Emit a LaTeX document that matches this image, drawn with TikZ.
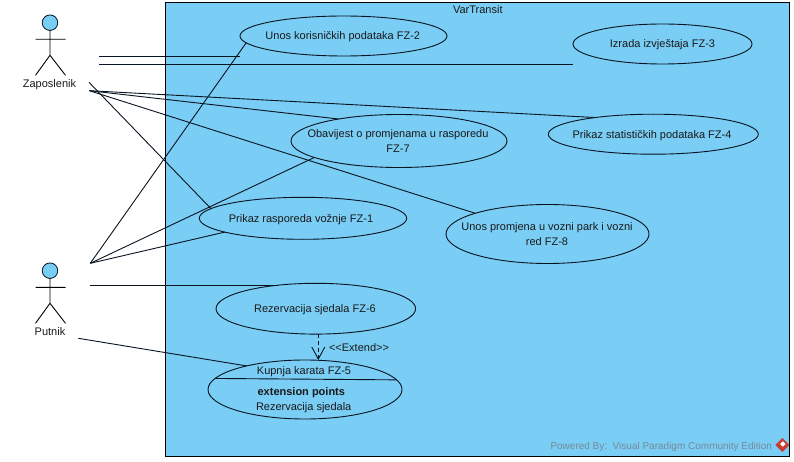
\documentclass[tikz,border=0pt]{standalone}
\usepackage{fontspec}
\setmainfont{Liberation Sans}
\usetikzlibrary{arrows.meta,shapes.geometric}
\definecolor{vpblue}{RGB}{122,205,245}
\definecolor{vpline}{RGB}{8,20,32}
\definecolor{vpgray}{RGB}{118,138,150}
\definecolor{vpred}{RGB}{200,60,50}
\tikzset{
  every node/.style={font=\fontsize{11}{15}\selectfont,text=black!90,inner sep=0pt,outer sep=0pt},
  usecase/.style={draw=vpline,line width=0.9pt,ellipse,fill=vpblue,inner sep=0pt},
  uctext/.style={anchor=base,align=center},
  assoc/.style={draw=vpline,line width=0.9pt},
  limb/.style={draw=black,line width=0.9pt},
  head/.style={circle,draw=vpline,line width=0.8pt,fill=vpblue,minimum size=15.5pt},
  extendline/.style={draw=vpline,line width=0.9pt,dash pattern=on 4pt off 3pt,-{Straight Barb[length=12pt,width=13pt,line width=0.9pt]}},
  sysbox/.style={draw=black,line width=1pt,fill=vpblue},
}
\begin{document}
\begin{tikzpicture}[x=1pt,y=-1pt]
\useasboundingbox (0,0) rectangle (794,462);
% system boundary
\node[sysbox,minimum width=623.8pt,minimum height=454.4pt,anchor=north west] (sys) at (165.5,2.4) {};
\node[uctext] (systitle) at (477.8,14) {VarTransit};
% use cases
\node[usecase,minimum width=207pt,minimum height=40pt] (uc2) at (343.5,36) {};
\node[uctext] (uc2t) at (342.8,40) {Unos korisničkih podataka FZ-2};
\node[usecase,minimum width=179pt,minimum height=40pt] (uc3) at (662.5,44) {};
\node[uctext] (uc3t) at (662.5,48) {Izrada izvještaja FZ-3};
\node[usecase,minimum width=216pt,minimum height=53pt] (uc7) at (399,141) {};
\node[uctext] (uc7t) at (398,152.3) {Obavijest o promjenama u rasporedu\\FZ-7};
\node[usecase,minimum width=210pt,minimum height=40pt] (uc4) at (653.3,134.2) {};
\node[uctext] (uc4t) at (652,138.3) {Prikaz statističkih podataka FZ-4};
\node[usecase,minimum width=207.4pt,minimum height=42pt] (uc1) at (303,218.3) {};
\node[uctext] (uc1t) at (301,222.3) {Prikaz rasporeda vožnje FZ-1};
\node[usecase,minimum width=203pt,minimum height=59pt] (uc8) at (547.5,234) {};
\node[uctext] (uc8t) at (547,245.3) {Unos promjena u vozni park i vozni\\red FZ-8};
\node[usecase,minimum width=199.6pt,minimum height=50.8pt] (uc6) at (315.8,308.7) {};
\node[uctext] (uc6t) at (315,312.7) {Rezervacija sjedala FZ-6};
\node[usecase,minimum width=194pt,minimum height=59pt] (uc5) at (305,389.5) {};
\node[uctext] (uc5name) at (304,374.3) {Kupnja karata FZ-5};
\node[uctext,font=\fontsize{11}{15}\selectfont\bfseries] (uc5ext) at (301.3,395) {extension points};
\node[uctext] (uc5pt) at (303.7,410) {Rezervacija sjedala};
\draw[assoc] (uc5.173.7) -- (uc5.6.3);
% actors
\node[head] (zaphead) at (50,22.7) {};
\coordinate (zaphip) at (50,55.3);
\coordinate (zaplarm) at (35.5,39.3);
\coordinate (zaprarm) at (65.5,39.3);
\coordinate (zaplfoot) at (35.5,75.3);
\coordinate (zaprfoot) at (65.5,75.3);
\draw[limb] (zaphead) -- (zaphip) (zaplarm) -- (zaprarm) (zaplfoot) -- (zaphip) -- (zaprfoot);
\node[uctext] (zaplabel) at (49.5,87.5) {Zaposlenik};
\node[head] (puthead) at (50,270.7) {};
\coordinate (puthip) at (50,303.3);
\coordinate (putlarm) at (35.5,287.3);
\coordinate (putrarm) at (65.5,287.3);
\coordinate (putlfoot) at (35.5,323.3);
\coordinate (putrfoot) at (65.5,323.3);
\draw[limb] (puthead) -- (puthip) (putlarm) -- (putrarm) (putlfoot) -- (puthip) -- (putrfoot);
\node[uctext] (putlabel) at (50,335) {Putnik};
% free ends
\coordinate (z1) at (99.3,56.3);
\coordinate (z2) at (99.3,64.3);
\coordinate (z3) at (89,82.3);
\coordinate (z4) at (89.3,90.7);
\coordinate (p1) at (90.3,263.3);
\coordinate (p2) at (90.3,285.3);
\coordinate (p3) at (78.3,338.3);
% associations
\draw[assoc] (z1) -- (uc2.west |- z1);
\draw[assoc] (z2) -- (uc3.west |- z2);
\draw[assoc] (z3) -- (uc1.174.1);
\draw[assoc] (z4) -- (uc7.160.2);
\draw[assoc] (z4) -- (uc4.164.5);
\draw[assoc] (z4) -- (uc8.164.3);
\draw[assoc] (p1) -- (uc2.184.85);
\draw[assoc] (p1) -- (uc7.191.1);
\draw[assoc] (p1) -- (uc1.190.9);
\draw[assoc] (p2) -- (uc6.148 |- p2);
\draw[assoc] (p3) -- (uc5.158.4);
% extend
\draw[extendline] ([xshift=2.5pt]uc6.south) -- ([xshift=13.3pt]uc5.north);
\node[uctext] (extlabel) at (359,351.7) {<{}<Extend>{}>};
% watermark
\node[uctext,anchor=base west,text=vpgray,font=\fontsize{10}{12}\selectfont] (wm) at (550.5,449) {Powered By:\ \ Visual Paradigm Community Edition};
\node[diamond,fill=vpred,minimum size=14pt] (logo) at (782.3,445) {};
\node[diamond,fill=white,minimum size=5.5pt] (logoin) at (782.8,444) {};
\end{tikzpicture}
\end{document}
